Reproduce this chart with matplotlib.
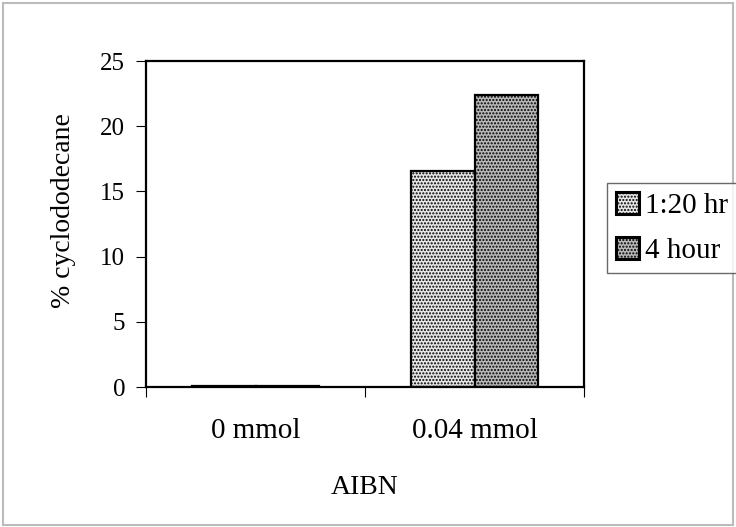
import matplotlib.pyplot as plt
import numpy as np
from matplotlib.patches import Rectangle

plt.rcParams['font.family'] = ['Liberation Serif', 'DejaVu Serif']

categories = ['0 mmol', '0.04 mmol']
series_names = ['1:20 hr', '4 hour']
short_run = [0.1, 16.6]
long_run = [0.1, 22.4]

fig = plt.figure(figsize=(7.36, 5.27), dpi=100)
fig.patches.append(Rectangle((0.004, 0.004), 0.992, 0.99, transform=fig.transFigure,
                             fill=False, edgecolor='#bbbbbb', linewidth=1.5))
ax = fig.add_axes([146 / 736, 1 - 387 / 527, 438 / 736, 326 / 527])

x = np.arange(len(categories))
w = 0.29
plt.rcParams['hatch.color'] = '#555555'
ax.bar(x - w / 2, short_run, w, color='#e6e6e6', edgecolor='black', linewidth=1.6,
       hatch='.....', label=series_names[0])
plt.rcParams['hatch.color'] = '#333333'
ax.bar(x + w / 2, long_run, w, color='#b8b8b8', edgecolor='black', linewidth=1.6,
       hatch='.....', label=series_names[1])

ax.set_xlim(-0.5, 1.5)
ax.set_ylim(0, 25)
ax.set_yticks([0, 5, 10, 15, 20, 25])
ax.set_xticks([-0.5, 0.5, 1.5])
ax.set_xticklabels([])
ax.set_xticks(x, minor=True)
ax.set_xticklabels(categories, minor=True, fontsize=21)
ax.tick_params(axis='x', which='minor', length=0, pad=22)
ax.tick_params(axis='x', which='major', length=7, direction='out')
ax.tick_params(axis='y', labelsize=18, length=7, direction='out', pad=8)
for s in ax.spines.values():
    s.set_linewidth(1.6)

ax.set_ylabel('% cyclododecane', fontsize=20, va='center')
ax.yaxis.set_label_coords(-(146 - 63) / 438, (387 - 211) / 326)
ax.set_xlabel('AIBN', fontsize=20, va='center')
ax.xaxis.set_label_coords(0.5, -(488 - 387) / 326)

leg = fig.legend(loc='upper left', bbox_to_anchor=(607 / 736, 1 - 183 / 527), fontsize=21,
                 frameon=True, fancybox=False, edgecolor='#444444',
                 handlelength=0.8, handleheight=0.8, handletextpad=0.2,
                 borderpad=0.3, labelspacing=0.6, borderaxespad=0)
leg.get_frame().set_linewidth(1.0)
for h in leg.legend_handles:
    h.set_linewidth(2.2)

fig.savefig('out.png', dpi=100)
